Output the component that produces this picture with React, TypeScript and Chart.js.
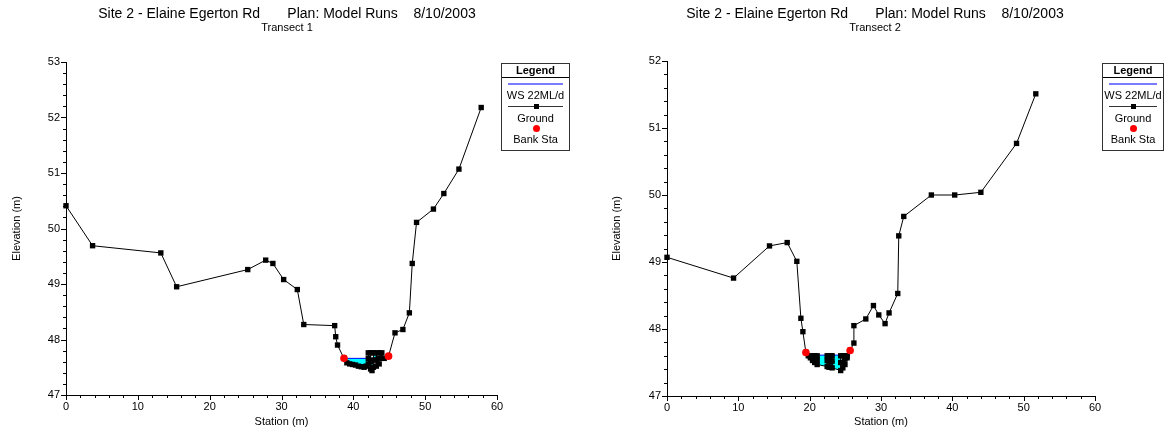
import React, { useEffect, useRef } from 'react';
import { Chart, registerables } from 'chart.js';

Chart.register(...registerables);

const FONT = '"Liberation Sans", Arial, Helvetica, sans-serif';

// ---- Transect 1 ----
const t1Station = [
  0, 3.7, 13.2, 15.4, 25.3, 27.8, 28.8, 30.3, 32.2, 33.1, 37.4, 37.55, 37.8,
  38.7, 39.1, 39.5, 39.9, 40.3, 40.7, 41.1, 41.5, 41.8,
  42.08, 42.08, 42.08, 42.4, 42.4, 42.4, 42.6, 42.8, 42.8, 42.8,
  43.2, 43.2, 43.2, 43.6, 43.6, 43.6, 43.97, 43.97, 44.3, 44.9,
  45.8, 46.9, 47.8, 48.2, 48.8, 51.15, 52.6, 54.7, 57.8,
];
const t1Elevation = [
  50.41, 49.69, 49.56, 48.95, 49.26, 49.43, 49.37, 49.08, 48.9, 48.27, 48.25, 48.05, 47.9,
  47.66, 47.58, 47.56, 47.55, 47.54, 47.52, 47.51, 47.5, 47.52,
  47.56, 47.66, 47.76, 47.76, 47.6, 47.47, 47.44, 47.5, 47.63, 47.76,
  47.76, 47.63, 47.52, 47.56, 47.66, 47.76, 47.76, 47.66, 47.66, 47.7,
  48.12, 48.18, 48.48, 49.37, 50.11, 50.35, 50.63, 51.07, 52.18,
];
const t1BankStation = [38.7, 44.9];
const t1BankElevation = [47.66, 47.7];
const t1WaterStation = [38.7, 44.9];
const t1WaterElevation = [47.66, 47.66];

// ---- Transect 2 ----
const t2Station = [
  0, 9.33, 14.37, 16.85, 18.2, 18.77, 19.05,
  19.47, 19.8, 20.1, 20.1, 20.4, 20.4, 20.7, 20.7, 21.05, 21.05, 21.05,
  22.45, 22.45, 22.45, 22.7, 22.7, 22.7, 22.95, 22.95, 22.95, 23.15, 23.15, 23.15,
  24.35, 24.35, 24.35, 24.65, 24.65, 24.65, 24.95, 24.95, 24.95, 25.25, 25.25, 25.67,
  26.2, 26.2, 27.87, 28.94, 29.69, 30.57, 31.13, 32.35, 32.49, 33.19,
  37.06, 40.33, 44.0, 49.0, 51.7,
];
const t2Elevation = [
  49.07, 48.76, 49.24, 49.29, 49.01, 48.16, 47.96,
  47.65, 47.6, 47.57, 47.6, 47.6, 47.53, 47.5, 47.6, 47.6, 47.54, 47.47,
  47.44, 47.53, 47.6, 47.6, 47.52, 47.43, 47.43, 47.52, 47.6, 47.6, 47.52, 47.42,
  47.38, 47.5, 47.6, 47.6, 47.5, 47.42, 47.47, 47.55, 47.6, 47.6, 47.57, 47.68,
  47.79, 48.05, 48.15, 48.35, 48.21, 48.08, 48.24, 48.53, 49.39, 49.68,
  50.0, 50.0, 50.04, 50.77, 51.51,
];
const t2BankStation = [19.47, 25.67];
const t2BankElevation = [47.65, 47.68];
const t2WaterStation = [19.47, 25.67];
const t2WaterElevation = [47.61, 47.61];

// Axis ranges and tick steps
const stationRange = [0, 60];
const stationMinorStep = 2;
const stationMajorStep = 10;
const t1ElevRange = [47, 53];
const t2ElevRange = [47, 52];
const elevMinorStep = 0.2;
const elevMajorStep = 1;

const titleText = 'Site 2 - Elaine Egerton Rd       Plan: Model Runs    8/10/2003';
const legendItems = ['WS 22ML/d', 'Ground', 'Bank Sta'];

const isMultiple = (v: number, step: number) =>
  Math.abs(v / step - Math.round(v / step)) < 1e-6;

const toPoints = (xs: number[], ys: number[]) => xs.map((x, i) => ({ x, y: ys[i] }));

// Outward tick marks: long on labelled values, short in between
const tickMarks = {
  id: 'tickMarks',
  afterDraw(chart: any) {
    const { ctx } = chart;
    const xs = chart.scales.x;
    const ys = chart.scales.y;
    ctx.save();
    ctx.strokeStyle = '#000';
    ctx.lineWidth = 1;
    ctx.beginPath();
    xs.ticks.forEach((t: any) => {
      const px = Math.round(xs.getPixelForValue(t.value)) + 0.5;
      const len = isMultiple(t.value, stationMajorStep) ? 5 : 3;
      ctx.moveTo(px, Math.round(xs.top));
      ctx.lineTo(px, Math.round(xs.top) + len);
    });
    ys.ticks.forEach((t: any) => {
      const py = Math.round(ys.getPixelForValue(t.value)) + 0.5;
      const len = isMultiple(t.value, elevMajorStep) ? 5 : 3;
      ctx.moveTo(Math.round(ys.right), py);
      ctx.lineTo(Math.round(ys.right) - len, py);
    });
    ctx.stroke();
    ctx.restore();
  },
};

type PanelProps = {
  station: number[];
  elevation: number[];
  bankStation: number[];
  bankElevation: number[];
  waterStation: number[];
  waterElevation: number[];
  elevRange: number[];
  width: number;
  height: number;
  padLeft: number;
  padTop: number;
  padRight: number;
  yAxisWidth: number;
  xAxisHeight: number;
  yTitlePad: number;
};

function CrossSection(p: PanelProps) {
  const ref = useRef<HTMLCanvasElement | null>(null);

  useEffect(() => {
    if (!ref.current) return;
    const tickFont = { family: FONT, size: 11 };
    const chart = new Chart(ref.current, {
      type: 'line',
      data: {
        datasets: [
          {
            label: 'WS 22ML/d',
            data: toPoints(p.waterStation, p.waterElevation),
            borderColor: '#0000ff',
            borderWidth: 1,
            backgroundColor: '#00ffff',
            pointRadius: 0,
            fill: 1,
            order: 2,
            clip: false,
          },
          {
            label: 'Ground',
            data: toPoints(p.station, p.elevation),
            borderColor: '#000',
            borderWidth: 1,
            pointStyle: 'rect',
            pointRadius: 3.8,
            pointBackgroundColor: '#000',
            pointBorderColor: '#000',
            pointBorderWidth: 0,
            fill: false,
            order: 1,
            clip: false,
          },
          {
            label: 'Bank Sta',
            data: toPoints(p.bankStation, p.bankElevation),
            showLine: false,
            pointStyle: 'circle',
            pointRadius: 3.8,
            pointBackgroundColor: '#ff0000',
            pointBorderColor: '#ff0000',
            pointBorderWidth: 0,
            order: 0,
            clip: false,
          },
        ],
      } as any,
      options: {
        animation: false,
        responsive: false,
        devicePixelRatio: 1,
        events: [],
        layout: { padding: { left: p.padLeft, top: p.padTop, right: p.padRight, bottom: 0 } },
        plugins: {
          legend: { display: false },
          tooltip: { enabled: false },
        },
        elements: { line: { tension: 0 } },
        scales: {
          x: {
            type: 'linear',
            min: stationRange[0],
            max: stationRange[1],
            border: { display: true, color: '#000', width: 1 },
            grid: { display: false, drawTicks: false },
            ticks: {
              stepSize: stationMinorStep,
              autoSkip: false,
              maxRotation: 0,
              padding: 5,
              color: '#000',
              font: tickFont,
              callback: (v: any) => (isMultiple(Number(v), stationMajorStep) ? String(Math.round(Number(v))) : ''),
            },
            title: {
              display: true,
              text: 'Station (m)',
              color: '#000',
              font: tickFont,
              padding: { top: 0, bottom: 8 },
            },
            afterFit: (s: any) => {
              s.height = p.xAxisHeight;
            },
          },
          y: {
            type: 'linear',
            min: p.elevRange[0],
            max: p.elevRange[1],
            border: { display: true, color: '#000', width: 1 },
            grid: { display: false, drawTicks: false },
            ticks: {
              stepSize: elevMinorStep,
              autoSkip: false,
              padding: 6,
              color: '#000',
              font: tickFont,
              callback: (v: any) => (isMultiple(Number(v), elevMajorStep) ? String(Math.round(Number(v))) : ''),
            },
            title: {
              display: true,
              text: 'Elevation (m)',
              color: '#000',
              font: tickFont,
              padding: { top: p.yTitlePad, bottom: 0 },
            },
            afterFit: (s: any) => {
              s.width = p.yAxisWidth;
            },
          },
        },
      } as any,
      plugins: [tickMarks],
    });
    return () => chart.destroy();
  }, []);

  return <canvas ref={ref} width={p.width} height={p.height} style={{ display: 'block' }} />;
}

function LegendBox({ left, top, width }: { left: number; top: number; width: number }) {
  const text: React.CSSProperties = {
    position: 'absolute',
    left: -10,
    right: -10,
    height: 13,
    lineHeight: '13px',
    textAlign: 'center',
    whiteSpace: 'nowrap',
  };
  return (
    <div
      style={{
        position: 'absolute',
        left,
        top,
        width,
        height: 88,
        boxSizing: 'border-box',
        border: '1px solid #333',
        background: '#fff',
        font: `11px ${FONT}`,
        color: '#000',
      }}
    >
      <div style={{ ...text, top: 0, left: 0, right: 0, fontWeight: 'bold' }}>Legend</div>
      <div style={{ position: 'absolute', left: 0, right: 0, top: 13, height: 1, background: '#000' }} />
      <div style={{ position: 'absolute', left: 6, right: 6, top: 19, height: 2, background: '#7b7bff' }} />
      <div style={{ ...text, top: 25 }}>{legendItems[0]}</div>
      <div style={{ position: 'absolute', left: 6, right: 6, top: 42, height: 1, background: '#333' }} />
      <div
        style={{
          position: 'absolute',
          left: '50%',
          top: 40,
          width: 5,
          height: 5,
          marginLeft: -2,
          background: '#000',
        }}
      />
      <div style={{ ...text, top: 48 }}>{legendItems[1]}</div>
      <div
        style={{
          position: 'absolute',
          left: '50%',
          top: 61,
          width: 7,
          height: 7,
          marginLeft: -3,
          borderRadius: '50%',
          background: '#ff0000',
        }}
      />
      <div style={{ ...text, top: 69 }}>{legendItems[2]}</div>
    </div>
  );
}

function Heading({ center, sub }: { center: number; sub: string }) {
  return (
    <>
      <div
        style={{
          position: 'absolute',
          left: center - 250,
          width: 500,
          top: 5,
          textAlign: 'center',
          font: `14px ${FONT}`,
          lineHeight: '16px',
          whiteSpace: 'pre',
          color: '#000',
        }}
      >
        {titleText}
      </div>
      <div
        style={{
          position: 'absolute',
          left: center - 100,
          width: 200,
          top: 21,
          textAlign: 'center',
          font: `11px ${FONT}`,
          lineHeight: '13px',
          color: '#000',
        }}
      >
        {sub}
      </div>
    </>
  );
}

export default function App() {
  return (
    <div
      style={{
        position: 'absolute',
        left: 0,
        top: 0,
        width: 1167,
        height: 437,
        overflow: 'hidden',
        background: '#fff',
      }}
    >
      <div style={{ position: 'absolute', left: 0, top: 0 }}>
        <CrossSection
          station={t1Station}
          elevation={t1Elevation}
          bankStation={t1BankStation}
          bankElevation={t1BankElevation}
          waterStation={t1WaterStation}
          waterElevation={t1WaterElevation}
          elevRange={t1ElevRange}
          width={583}
          height={437}
          padLeft={0}
          padTop={62}
          padRight={86}
          yAxisWidth={66}
          xAxisHeight={42}
          yTitlePad={10}
        />
      </div>
      <div style={{ position: 'absolute', left: 583, top: 0 }}>
        <CrossSection
          station={t2Station}
          elevation={t2Elevation}
          bankStation={t2BankStation}
          bankElevation={t2BankElevation}
          waterStation={t2WaterStation}
          waterElevation={t2WaterElevation}
          elevRange={t2ElevRange}
          width={584}
          height={437}
          padLeft={0}
          padTop={61}
          padRight={72}
          yAxisWidth={84}
          xAxisHeight={41}
          yTitlePad={27}
        />
      </div>
      <Heading center={287} sub="Transect 1" />
      <Heading center={875} sub="Transect 2" />
      <LegendBox left={501} top={63} width={69} />
      <LegendBox left={1102} top={63} width={62} />
    </div>
  );
}
